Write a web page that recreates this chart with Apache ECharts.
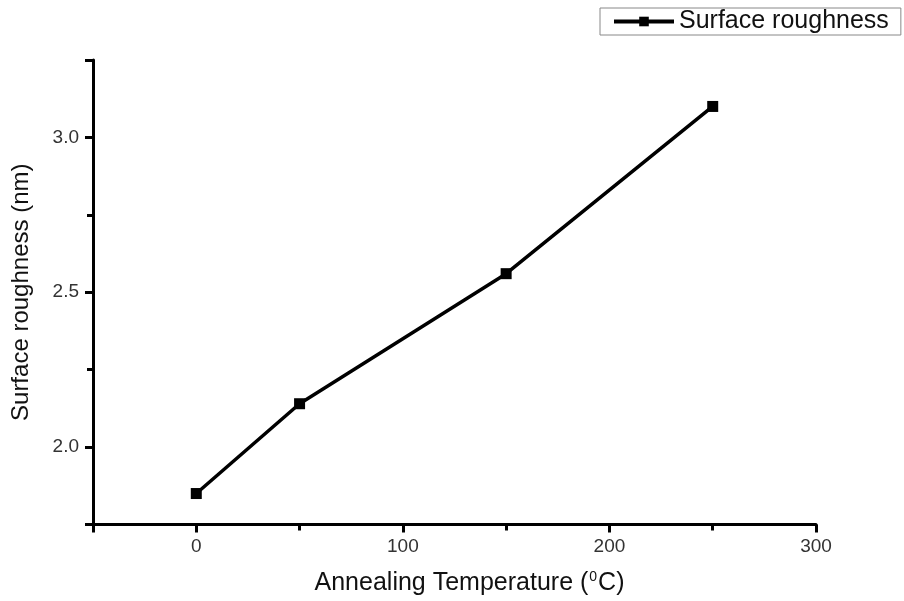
<!DOCTYPE html>
<html><head><meta charset="utf-8">
<script src="https://cdn.jsdelivr.net/npm/echarts@6/dist/echarts.min.js"></script>
<style>html,body{margin:0;padding:0;background:#fff}#c{width:904px;height:601px}</style>
</head><body><div id="c"></div>
<script>
const temperatures = [0, 50, 150, 250];
const roughness = [1.85, 2.14, 2.56, 3.10];
const seriesName = 'Surface roughness';
const xTitle = 'Annealing Temperature (';
const yTitle = 'Surface roughness (nm)';

const chart = echarts.init(document.getElementById('c'));
const font = 'Liberation Sans, Arial, sans-serif';
const axisLine = {show: true, onZero: false, lineStyle: {color: '#000', width: 3}};
chart.setOption({
  animation: false,
  backgroundColor: '#fff',
  textStyle: {fontFamily: font},
  grid: {left: 93, right: 88, top: 60, bottom: 75, containLabel: false},
  legend: {
    left: 600, top: 8, padding: [1, 12, 1, 12],
    borderColor: '#888', borderWidth: 1,
    itemWidth: 60, itemHeight: 12, itemGap: 6,
    lineStyle: {width: 4, color: '#000'},
    textStyle: {fontSize: 25, color: '#111', fontFamily: font},
    data: [seriesName]
  },
  xAxis: [{
    type: 'value', min: -50, max: 300, minInterval: 100, maxInterval: 100,
    axisLine: axisLine,
    axisTick: {show: true, length: 8, lineStyle: {color: '#000', width: 3}},
    axisLabel: {fontSize: 19, color: '#333', margin: 13,
      formatter: v => (v % 100 === 0 ? String(v) : '')},
    splitLine: {show: false},
    name: xTitle + '{sup|0}C)', nameLocation: 'middle', nameGap: 46,
    nameTextStyle: {fontSize: 25, color: '#111', fontFamily: font, padding: [0, 0, 0, 30],
      rich: {sup: {fontSize: 14, verticalAlign: 'top', padding: [0, 1, 12, 1], color: '#111', fontFamily: font}}}
  }, {
    type: 'value', min: -50, max: 300, interval: 100, position: 'bottom',
    axisLine: {show: false, onZero: false},
    axisTick: {show: true, length: 6, lineStyle: {color: '#000', width: 3}},
    axisLabel: {show: false}, splitLine: {show: false}
  }],
  yAxis: [{
    type: 'value', min: 1.75, max: 3.25, minInterval: 0.5, maxInterval: 0.5,
    axisLine: axisLine,
    axisTick: {show: true, length: 8, lineStyle: {color: '#000', width: 3}},
    axisLabel: {fontSize: 19, color: '#333', margin: 14,
      formatter: v => (Math.abs(v * 2 - Math.round(v * 2)) < 1e-6 ? v.toFixed(1) : '')},
    splitLine: {show: false},
    name: yTitle, nameLocation: 'middle', nameGap: 60, nameRotate: 90,
    nameTextStyle: {fontSize: 24, color: '#111', fontFamily: font}
  }, {
    type: 'value', min: 1.75, max: 3.25, interval: 0.5, position: 'left',
    axisLine: {show: false, onZero: false},
    axisTick: {show: true, length: 6, lineStyle: {color: '#000', width: 3}},
    axisLabel: {show: false}, splitLine: {show: false}
  }],
  series: [{
    name: seriesName, type: 'line',
    xAxisIndex: 0, yAxisIndex: 0,
    data: temperatures.map((t, i) => [t, roughness[i]]),
    symbol: 'rect', symbolSize: 11,
    lineStyle: {color: '#000', width: 3.5},
    itemStyle: {color: '#000'}
  }]
});
</script></body></html>
